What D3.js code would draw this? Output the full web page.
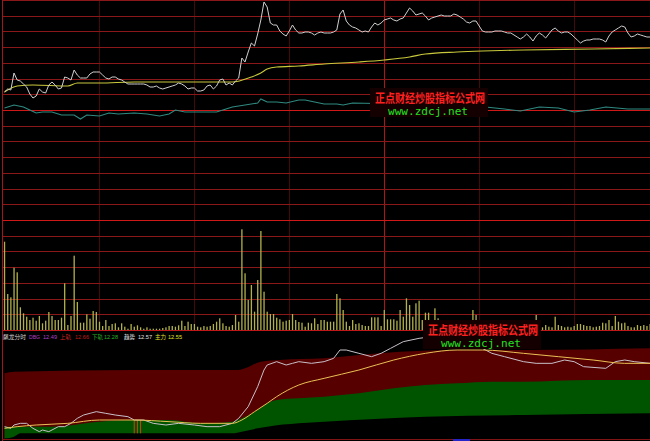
<!DOCTYPE html>
<html><head><meta charset="utf-8">
<script src="https://cdn.jsdelivr.net/npm/d3@7"></script>
<style>html,body{margin:0;padding:0;background:#000;overflow:hidden}</style>
</head><body><svg id="c" width="650" height="441"></svg>
<script>
// ---------- data ----------
const price = [12.08,12.11,12.10,12.27,12.20,12.19,12.16,12.13,12.06,12.02,
12.04,12.11,12.08,12.07,12.15,12.18,12.15,12.11,12.12,12.23,
12.22,12.20,12.30,12.25,12.22,12.22,12.22,12.26,12.28,12.28,
12.28,12.25,12.22,12.21,12.23,12.23,12.21,12.20,12.18,12.16,
12.16,12.16,12.16,12.16,12.16,12.15,12.13,12.13,12.14,12.12,
12.11,12.12,12.13,12.14,12.15,12.17,12.16,12.14,12.11,12.12,
12.12,12.09,12.09,12.10,12.14,12.15,12.11,12.14,12.20,12.21,
12.15,12.17,12.15,12.19,12.22,12.42,12.38,12.48,12.57,12.54,
12.66,12.80,12.98,12.93,12.77,12.75,12.75,12.69,12.66,12.64,
12.69,12.75,12.70,12.67,12.67,12.68,12.68,12.67,12.65,12.67,
12.68,12.67,12.67,12.67,12.68,12.70,12.86,12.90,12.79,12.75,
12.73,12.72,12.70,12.68,12.69,12.68,12.73,12.77,12.75,12.77,
12.80,12.81,12.82,12.80,12.79,12.81,12.82,12.87,12.92,12.89,
12.85,12.86,12.87,12.84,12.80,12.82,12.83,12.84,12.85,12.84,
12.84,12.84,12.86,12.85,12.83,12.81,12.78,12.77,12.79,12.79,
12.74,12.69,12.68,12.68,12.68,12.69,12.69,12.69,12.68,12.67,
12.67,12.65,12.63,12.61,12.63,12.66,12.63,12.59,12.64,12.67,
12.65,12.62,12.66,12.70,12.72,12.69,12.67,12.68,12.68,12.66,
12.63,12.60,12.57,12.59,12.60,12.60,12.61,12.61,12.61,12.60,
12.58,12.64,12.68,12.70,12.72,12.74,12.73,12.67,12.63,12.64,
12.66,12.65,12.64,12.63,12.63];

const avgT = [0,1,4,9,20,23,30,41,56,72,78,81,83,86,93,101,112,120,128,133,143,151,164,186,204];
const avgV = [12.08,12.10,12.14,12.15,12.14,12.17,12.17,12.18,12.18,12.18,12.23,12.27,12.31,12.33,12.34,12.36,12.38,12.40,12.43,12.46,12.48,12.49,12.50,12.51,12.52];

const tealT = [0,3,6,8,10,12,15,18,22,24,26,30,33,36,41,45,49,52,54,57,62,67,70,72,76,80,81,83,86,89,93,95,98,101,105,107,110,125,140,152,158,163,169,175,180,185,190,197,204];
const tealV = [11.92,11.95,11.93,11.90,11.87,11.88,11.88,11.85,11.85,11.81,11.85,11.84,11.87,11.86,11.87,11.86,11.84,11.86,11.90,11.88,11.88,11.88,11.91,11.93,11.95,11.97,12.01,11.98,11.98,11.97,12.00,12.00,11.98,11.96,11.96,11.95,11.97,11.96,11.95,11.93,11.91,11.89,11.93,11.92,11.88,11.90,11.93,11.91,11.91];

const volume = [883,360,327,623,577,227,167,133,100,123,
93,140,67,93,180,140,100,100,123,467,
50,140,743,280,73,73,157,113,190,180,
83,40,100,40,60,67,27,67,33,13,
60,33,47,27,13,27,13,13,13,13,
20,27,40,40,33,47,93,40,83,60,
60,33,27,40,33,40,60,83,117,67,
40,33,50,150,83,1007,567,300,450,183,
500,990,383,183,160,160,123,107,83,93,
100,160,100,80,73,33,73,67,117,60,
100,100,83,83,83,360,317,200,83,40,
100,60,67,50,40,40,127,127,127,40,
200,107,107,107,93,200,133,317,250,133,
267,293,100,173,173,100,217,117,60,80,
50,90,70,40,60,80,50,90,200,150,
70,60,40,80,50,60,40,70,50,60,
80,40,50,60,70,40,60,80,150,60,
27,50,33,27,133,50,40,27,33,27,
40,60,60,50,40,40,27,33,40,73,
67,100,40,140,83,67,73,40,27,27,
50,40,50,40,60];

// lower panel (飙龙分时)
const upperT = [0,3,41,74,76,81,87,101,112,125,143,164,204];
const upperV = [12.51,12.52,12.53,12.53,12.54,12.58,12.59,12.60,12.62,12.64,12.65,12.65,12.66];
const dbgT = [0,15,30,41,52,62,72,75,80,83,86,93,101,112,123,133,143,154,164,185,204];
const dbgV = [12.19,12.19,12.22,12.23,12.23,12.21,12.22,12.24,12.29,12.33,12.35,12.36,12.37,12.39,12.42,12.44,12.45,12.46,12.46,12.47,12.47];
const lowerT = [0,3,5,30,50,72,75,80,83,93,101,133,164,204];
const lowerV = [12.12,12.13,12.15,12.15,12.15,12.15,12.16,12.18,12.19,12.21,12.22,12.25,12.26,12.27];
const trendT = [0,2,3,5,7,9,11,12,14,17,19,21,23,25,29,32,35,39,41,44,47,51,55,60,64,68,72,74,77,80,82,83,86,89,91,93,97,101,104,106,108,112,116,119,122,126,131,135,142,149,151,154,158,164,168,173,177,180,183,190,193,196,199,204];
const trendV = [12.19,12.18,12.20,12.21,12.21,12.18,12.16,12.17,12.16,12.19,12.19,12.21,12.24,12.26,12.28,12.27,12.26,12.25,12.23,12.23,12.21,12.20,12.21,12.20,12.19,12.19,12.21,12.24,12.31,12.43,12.53,12.56,12.58,12.56,12.57,12.58,12.57,12.58,12.60,12.65,12.65,12.63,12.61,12.63,12.66,12.70,12.72,12.73,12.71,12.67,12.66,12.63,12.61,12.58,12.57,12.57,12.59,12.58,12.55,12.54,12.58,12.59,12.58,12.57];
const mainT = [0,4,10,20,30,41,52,62,72,75,79,83,86,93,101,112,123,133,143,151,164,175,186,196,204];
const mainV = [12.18,12.19,12.20,12.21,12.23,12.23,12.22,12.21,12.21,12.23,12.28,12.33,12.37,12.44,12.48,12.53,12.59,12.63,12.65,12.65,12.63,12.61,12.59,12.57,12.57];
const signalMinutes = [41,42,43];

const legendItems = [
  {t:"飙龙分时", x:3, w:23, c:"#d8d8d8"},
  {t:"DBG", x:29, w:11, c:"#b040c8"},
  {t:"12.49", x:43, w:14, c:"#b040c8"},
  {t:"上轨", x:60, w:11, c:"#d02424"},
  {t:"12.66", x:75, w:14, c:"#c01c1c"},
  {t:"下轨", x:92, w:11, c:"#28b028"},
  {t:"12.28", x:104, w:14, c:"#28b028"},
  {t:"趋势", x:124, w:11, c:"#e0e0e0"},
  {t:"12.57", x:138, w:14, c:"#e0e0e0"},
  {t:"主力", x:155, w:11, c:"#e0e028"},
  {t:"12.55", x:168, w:14, c:"#e0e028"}
];
const watermarkCN = "正点财经炒股指标公式网";
const watermarkEN = "www.zdcj.net";

// ---------- scales ----------
const svg = d3.select("#c");
const x = d3.scaleLinear().domain([0, 240]).range([4.5, 764]);
const pY = d3.scaleLinear().domain([10.80, 13.00]).range([220, 0]);
const vY = d3.scaleLinear().domain([0, 1100]).range([330, 220]);
const lY = d3.scaleLinear().domain([12.11, 12.77]).range([440, 330]);

svg.append("rect").attr("width",650).attr("height",441).attr("fill","#000");

// ---------- grid ----------
const g = svg.append("g");
const vMinutes = [30,60,90,120,150,180,210];
vMinutes.forEach(m=>{
  const xx = Math.round(x(m))+0.5;
  g.append("line").attr("x1",xx).attr("x2",xx).attr("y1",0).attr("y2",330)
   .attr("stroke", m===120 ? "#b01414" : "#420a0a").attr("stroke-width",1);
});
const step = 2.2/14;
d3.range(0,15).forEach(k=>{
  const yy = Math.round(pY(10.80 + k*step)) + 0.5;
  const major = (k===0 || k===7);
  g.append("line").attr("x1",2).attr("x2",650).attr("y1",yy).attr("y2",yy)
   .attr("stroke", major ? "#d01818" : "#8a1818").attr("stroke-width",1);
});
d3.range(0,7).forEach(k=>{
  const yy = Math.round(vY(k*1100/7)) + 0.5;
  g.append("line").attr("x1",2).attr("x2",650).attr("y1",yy).attr("y2",yy)
   .attr("stroke", k===0 ? "#c01818" : "#8a1818").attr("stroke-width",1);
});

// ---------- volume ----------
svg.append("g").selectAll("rect").data(volume).join("rect")
  .attr("x",(d,i)=>x(i)-0.6).attr("width",1.3)
  .attr("y",d=>vY(d)).attr("height",d=>vY(0)-vY(d))
  .attr("fill","#b0b04c");

// ---------- price panel ----------
const linePrice = d3.line().x((d,i)=>x(i)).y(d=>pY(d));
const pairs = (T,V)=>T.map((t,i)=>[t,V[i]]);
const lineXY = (yS,curve)=>d3.line().x(d=>x(d[0])).y(d=>yS(d[1])).curve(curve||d3.curveLinear);

svg.append("path").datum(pairs(tealT,tealV)).attr("d",lineXY(pY))
  .attr("fill","none").attr("stroke","#2e8a80").attr("stroke-width",1.1);
svg.append("path").datum(pairs(avgT,avgV)).attr("d",lineXY(pY,d3.curveMonotoneX))
  .attr("fill","none").attr("stroke","#c8c83c").attr("stroke-width",1.1);
svg.append("path").datum(price).attr("d",linePrice)
  .attr("fill","none").attr("stroke","#d0d0d0").attr("stroke-width",1);

// ---------- lower panel ----------
const bottom = 439;
const area = (T,V)=>d3.area().x(d=>x(d[0])).y0(bottom).y1(d=>lY(d[1])).curve(d3.curveMonotoneX)(pairs(T,V));
svg.append("path").attr("d",area(upperT,upperV)).attr("fill","#560000");
svg.append("path").attr("d",area(dbgT,dbgV)).attr("fill","#005400");
svg.append("path").attr("d",area(lowerT,lowerV)).attr("fill","#000");

const interp = (T,V,m) => { const i = d3.bisectLeft(T,m); if(T[i]===m) return V[i];
  const t=(m-T[i-1])/(T[i]-T[i-1]); return V[i-1]+t*(V[i]-V[i-1]); };
svg.append("g").selectAll("line").data(signalMinutes).join("line")
  .attr("x1",d=>x(d)).attr("x2",d=>x(d))
  .attr("y1",d=>lY(interp(dbgT,dbgV,d))).attr("y2",d=>lY(interp(lowerT,lowerV,d)))
  .attr("stroke","#c84412").attr("stroke-width",1);

svg.append("path").datum(pairs(trendT,trendV)).attr("d",lineXY(lY))
  .attr("fill","none").attr("stroke","#c8c0c8").attr("stroke-width",1);
svg.append("path").datum(pairs(mainT,mainV)).attr("d",lineXY(lY,d3.curveMonotoneX))
  .attr("fill","none").attr("stroke","#eac055").attr("stroke-width",1);

// borders
svg.append("line").attr("x1",2.5).attr("x2",2.5).attr("y1",0).attr("y2",441).attr("stroke","#a01818");
svg.append("line").attr("x1",2).attr("x2",650).attr("y1",439.5).attr("y2",439.5).attr("stroke","#801414");
svg.append("rect").attr("x",453).attr("y",439).attr("width",17).attr("height",2).attr("fill","#2424c8");

// legend
svg.append("g").selectAll("text").data(legendItems).join("text")
  .attr("x",d=>d.x).attr("y",338.5)
  .attr("font-family","'Liberation Sans','Noto Sans CJK SC',sans-serif")
  .attr("font-size",5.8).attr("fill",d=>d.c)
  .attr("textLength",d=>d.w).attr("lengthAdjust","spacingAndGlyphs").text(d=>d.t);

// watermarks
function watermark(bx,by){
  svg.append("rect").attr("x",bx).attr("y",by).attr("width",118).attr("height",29).attr("fill","#140000");
  svg.append("text").attr("x",bx+5).attr("y",by+14.5)
    .attr("font-family","'Noto Sans CJK SC',sans-serif").attr("font-weight","bold")
    .attr("font-size",12.5).attr("fill","#ff2020")
    .attr("textLength",110).attr("lengthAdjust","spacingAndGlyphs").text(watermarkCN);
  svg.append("text").attr("x",bx+18).attr("y",by+27)
    .attr("font-family","'DejaVu Sans Mono',monospace")
    .attr("font-size",10).attr("fill","#22e022")
    .attr("textLength",80).attr("lengthAdjust","spacingAndGlyphs").text(watermarkEN);
}
watermark(370,88);
watermark(423,320);
</script></body></html>
